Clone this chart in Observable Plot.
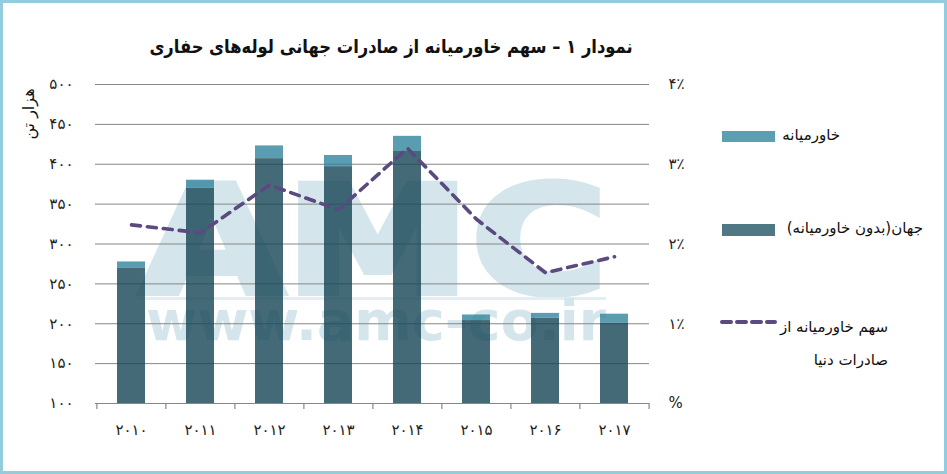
<!DOCTYPE html>
<html>
<head>
<meta charset="utf-8">
<script src="https://cdn.jsdelivr.net/npm/d3@7"></script>
<script src="https://cdn.jsdelivr.net/npm/@observablehq/plot@0.6"></script>
<style>
  body { margin: 0; background: #fff; font-family: "DejaVu Sans", sans-serif; }
  #wrap { position: relative; width: 947px; height: 474px; overflow: hidden; background: #fff; }
  #wrap > * { position: absolute; }
  .rtl { direction: rtl; text-align: right; white-space: nowrap; color: #111; }
  #chart g[aria-label="x-axis tick label"] text { letter-spacing: 3px; }
  #chart g[aria-label="y-axis tick label"] text { letter-spacing: 2px; }
</style>
</head>
<body>
<div id="wrap">
  <svg id="wm" width="947" height="474" style="left:0;top:0">
    <text x="140" y="293" font-family="DejaVu Sans" font-weight="900" font-size="150" textLength="468" lengthAdjust="spacingAndGlyphs" fill="#d4e6ec" stroke="#d4e6ec" stroke-width="6">AMC</text>
    <rect x="140" y="297" width="466" height="3" fill="#e3eef2"></rect>
    <text x="146" y="340" font-family="DejaVu Sans" font-weight="bold" font-size="56" textLength="460" lengthAdjust="spacingAndGlyphs" fill="#d4e6ec">www.amc-co.ir</text>
  </svg>
  <div id="chart" style="left:0;top:0"></div>
  <div class="rtl" style="left:0;width:782px;top:35px;text-align:center;font-size:19px;font-weight:bold;transform:scaleX(0.86);transform-origin:391px 50%;">نمودار ۱ – سهم خاورمیانه از صادرات جهانی لوله‌های حفاری</div>
  <div class="rtl" style="left:28px;top:114px;font-size:16px;transform:translate(-50%,-50%) rotate(-90deg);">هزار تن</div>
  <div id="legend" style="left:0;top:0;width:947px;height:474px;"></div>
  <div style="left:0;top:0;width:947px;height:474px;box-sizing:border-box;border:3px solid #93cddd;pointer-events:none;"></div>
</div>
<script>
// ---- data ----
const years = ["2010", "2011", "2012", "2013", "2014", "2015", "2016", "2017"];
const yearLabels = ["۲۰۱۰", "۲۰۱۱", "۲۰۱۲", "۲۰۱۳", "۲۰۱۴", "۲۰۱۵", "۲۰۱۶", "۲۰۱۷"];
// world exports excluding Middle East (thousand tonnes)
const worldExME = [270, 370, 407, 397, 416, 204, 207, 201];
// Middle East exports (thousand tonnes)
const middleEast = [7.5, 10, 16, 14, 19, 7, 6, 11];
// Middle East share of world exports (%)
const meShare = [2.24, 2.14, 2.74, 2.43, 3.2, 2.31, 1.64, 1.84];
// axes
const leftTicks = [100, 150, 200, 250, 300, 350, 400, 450, 500];
const leftTickLabels = ["۱۰۰", "۱۵۰", "۲۰۰", "۲۵۰", "۳۰۰", "۳۵۰", "۴۰۰", "۴۵۰", "۵۰۰"];
const rightTicks = [0, 1, 2, 3, 4];
const rightTickLabels = ["%", "۱٪", "۲٪", "۳٪", "۴٪"];
const legendLabels = ["خاورمیانه", "جهان(بدون خاورمیانه)", "سهم خاورمیانه از", "صادرات دنیا"];

const axisMin = 100;
const pctToLeft = p => axisMin + p * 100; // 0..4 %  ->  100..500

const rows = years.map((y, i) => ({
  year: y,
  world: worldExME[i],
  me: middleEast[i],
  share: meShare[i]
}));

const gridColor = "#868686";
const step = 554 / 8;

const chart = Plot.plot({
  width: 947,
  height: 474,
  marginLeft: 95,
  marginRight: 298,
  marginTop: 84,
  marginBottom: 71,
  style: { background: "transparent", fontFamily: "DejaVu Sans, sans-serif", color: "#222", overflow: "visible" },
  x: { type: "band", domain: years, paddingInner: 0.6, paddingOuter: 0.3 },
  y: { domain: [100, 500] },
  marks: [
    Plot.ruleY(leftTicks.slice(1), { stroke: gridColor, strokeWidth: 1, strokeOpacity: 1 }),
    Plot.ruleY([100], { stroke: gridColor, strokeWidth: 1.2 }),
    Plot.ruleX(years, { x: d => d, y1: 100, y2: 92.5, dx: -step / 2, stroke: gridColor, strokeWidth: 1.2 }),
    Plot.ruleX(years.slice(-1), { x: d => d, y1: 100, y2: 92.5, dx: step / 2, stroke: gridColor, strokeWidth: 1.2 }),
    Plot.barY(rows, { x: "year", y1: axisMin, y2: "world", fill: "#154556", fillOpacity: 0.8 }),
    Plot.barY(rows, { x: "year", y1: "world", y2: d => d.world + d.me, fill: "#31849c", fillOpacity: 0.8 }),
    Plot.line(rows, {
      x: "year", y: d => pctToLeft(d.share),
      stroke: "#5a4a7f", strokeWidth: 3.6, strokeDasharray: "9,7", strokeLinecap: "round",
      curve: "linear"
    }),
    Plot.axisY({
      ticks: leftTicks, tickSize: 0, tickPadding: 22, fontSize: 15, label: null,
      tickFormat: v => leftTickLabels[leftTicks.indexOf(v)]
    }),
    Plot.axisY({
      anchor: "right", ticks: rightTicks.map(pctToLeft), tickSize: 0, tickPadding: 19, fontSize: 15, label: null,
      tickFormat: v => rightTickLabels[rightTicks.indexOf((v - axisMin) / 100)]
    }),
    Plot.axisX({
      tickSize: 0, tickPadding: 21, fontSize: 15, label: null,
      tickFormat: y => yearLabels[years.indexOf(y)]
    })
  ]
});
document.getElementById("chart").appendChild(chart);

// ---- legend ----
const lg = document.getElementById("legend");
lg.innerHTML = `
  <div style="position:absolute;left:722px;top:131px;width:53px;height:11px;background:#5a9fb2"></div>
  <div class="rtl" style="position:absolute;right:107px;top:126px;font-size:15px;">${legendLabels[0]}</div>
  <div style="position:absolute;left:722px;top:224px;width:53px;height:12px;background:#4f7784"></div>
  <div class="rtl" style="position:absolute;right:24px;top:219px;font-size:15px;">${legendLabels[1]}</div>
  <svg style="position:absolute;left:718px;top:316px" width="62" height="12">
    <line x1="4" x2="57" y1="6" y2="6" stroke="#5a4a7f" stroke-width="4" stroke-dasharray="9,6" stroke-linecap="round"></line>
  </svg>
  <div class="rtl" style="position:absolute;right:59px;top:311px;font-size:15px;line-height:33px;">${legendLabels[2]}<br>${legendLabels[3]}</div>
`;
</script>
</body>
</html>
